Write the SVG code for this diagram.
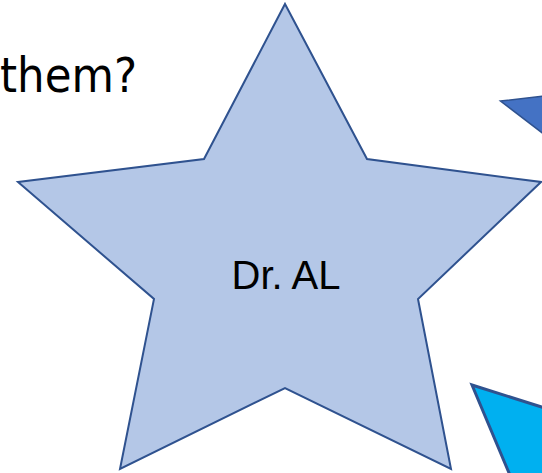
<svg xmlns="http://www.w3.org/2000/svg" width="542" height="473" viewBox="0 0 542 473">
<style>
.shape{stroke:#2F528F;stroke-linejoin:miter}
</style>
<rect width="542" height="473" fill="#FFFFFF"/>
<text x="0" y="92" textLength="137" lengthAdjust="spacingAndGlyphs" font-family="'Comic Sans MS','DejaVu Sans',sans-serif" font-size="48" fill="#000">them?</text>
<g id="triangle-dark">
<polygon class="shape" points="500.5,101 545,96 545,135" fill="#4472C4" stroke-width="1.5"/>
</g>
<g id="triangle-cyan">
<polygon class="shape" points="472,385 545,408 545,480 512,480" fill="#00B0F0" stroke-width="3"/>
</g>
<g id="star">
<polygon class="shape" points="285,4 367,159 541,182 418,299 451,469 285,388 120,469 154,299 18,182 204,159" fill="#B4C7E7" stroke-width="2"/>
<text x="286" y="289" text-anchor="middle" font-family="'Liberation Sans',Arial,sans-serif" font-size="40" fill="#000">Dr. AL</text>
</g>
</svg>
